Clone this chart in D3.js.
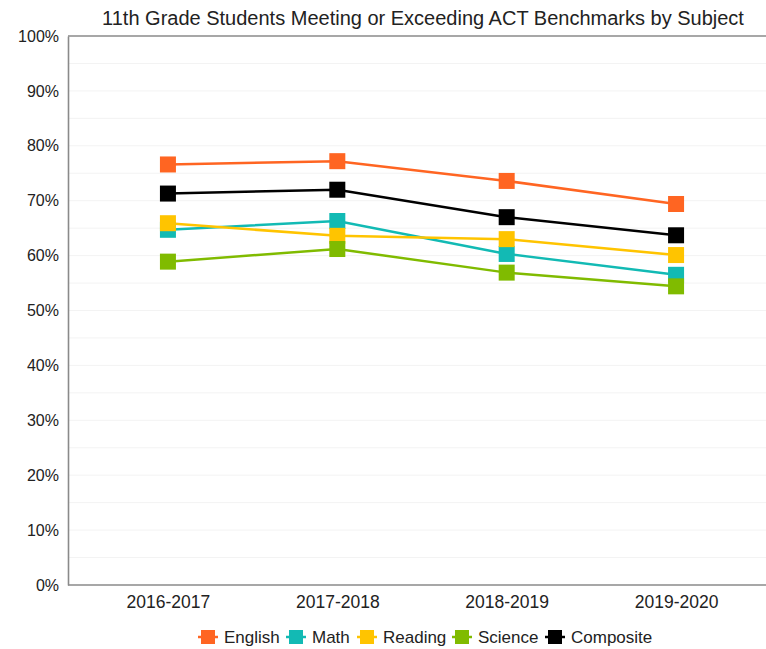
<!DOCTYPE html>
<html>
<head>
<meta charset="utf-8">
<script src="https://cdn.jsdelivr.net/npm/d3@7"></script>
<style>
  body { margin: 0; background: #fff; }
  svg text { font-family: "Liberation Sans", Arial, sans-serif; fill: #222; }
</style>
</head>
<body>
<svg id="chart" width="766" height="649"></svg>
<script>
// school years on the x axis
var years = ["2016-2017", "2017-2018", "2018-2019", "2019-2020"];

// percent meeting benchmark
var english   = [76.6, 77.2, 73.6, 69.4];
var math      = [64.7, 66.3, 60.3, 56.5];
var reading   = [65.9, 63.6, 63.0, 60.1];
var science   = [58.9, 61.2, 56.9, 54.4];
var composite = [71.3, 72.0, 67.0, 63.7];

var subjects = ["English", "Math", "Reading", "Science", "Composite"];
var colors   = ["#ff6522", "#12bab4", "#ffc400", "#80bb00", "#000000"];
var yTicks   = [0, 10, 20, 30, 40, 50, 60, 70, 80, 90, 100];

var seriesValues = [english, math, reading, science, composite];

var width = 766, height = 649;
var margin = {top: 36, right: 0, bottom: 64, left: 68};

var svg = d3.select("#chart");

var x = d3.scalePoint()
    .domain(years)
    .range([margin.left, width - margin.right + 10])
    .padding(0.59);

var y = d3.scaleLinear()
    .domain([0, 100])
    .range([height - margin.bottom, margin.top]);

// faint grid every 5%
svg.append("g")
  .selectAll("line")
  .data(d3.range(5, 100, 5))
  .enter().append("line")
    .attr("x1", margin.left)
    .attr("x2", width)
    .attr("y1", function(d) { return y(d); })
    .attr("y2", function(d) { return y(d); })
    .attr("stroke", "#f3f3f3")
    .attr("stroke-width", 1);

// y axis
var yAxis = svg.append("g")
    .attr("transform", "translate(" + margin.left + ",0)")
    .call(d3.axisLeft(y).tickValues(yTicks).tickSize(0).tickPadding(9)
      .tickFormat(function(d) { return d + "%"; }));
yAxis.select(".domain").attr("stroke", "#8a8a8a").attr("stroke-width", 1.6);
yAxis.selectAll("text").style("font-size", "16px").attr("fill", "#222");

// x axis
var xAxis = svg.append("g")
    .attr("transform", "translate(0," + y(0) + ")")
    .call(d3.axisBottom(x).tickSize(0).tickPadding(11));
xAxis.select(".domain").remove();
xAxis.selectAll("text").style("font-size", "17.5px").attr("fill", "#222");

svg.append("line")
    .attr("x1", margin.left).attr("x2", width)
    .attr("y1", y(0)).attr("y2", y(0))
    .attr("stroke", "#8a8a8a").attr("stroke-width", 1.6);
svg.append("line")
    .attr("x1", margin.left).attr("x2", width)
    .attr("y1", y(100)).attr("y2", y(100))
    .attr("stroke", "#8a8a8a").attr("stroke-width", 1.6);

// title
svg.append("text")
    .attr("x", 423)
    .attr("y", 25)
    .attr("text-anchor", "middle")
    .style("font-size", "20px")
    .attr("fill", "#111")
    .text("11th Grade Students Meeting or Exceeding ACT Benchmarks by Subject");

var line = d3.line()
    .x(function(d, i) { return x(years[i]); })
    .y(function(d) { return y(d); });

// lines first, then markers
svg.append("g")
  .selectAll("path")
  .data(seriesValues)
  .enter().append("path")
    .attr("d", line)
    .attr("fill", "none")
    .attr("stroke", function(d, i) { return colors[i]; })
    .attr("stroke-width", 2.5);

var sq = 16;
seriesValues.forEach(function(vals, s) {
  svg.append("g")
    .selectAll("rect")
    .data(vals)
    .enter().append("rect")
      .attr("x", function(d, i) { return x(years[i]) - sq / 2; })
      .attr("y", function(d) { return y(d) - sq / 2; })
      .attr("width", sq)
      .attr("height", sq)
      .attr("fill", colors[s]);
});

// legend
var legendX = [198, 286, 357, 452, 545];
var legend = svg.append("g")
  .selectAll("g")
  .data(subjects)
  .enter().append("g")
    .attr("transform", function(d, i) { return "translate(" + legendX[i] + ",637)"; });

legend.append("line")
    .attr("x1", 0).attr("x2", 20)
    .attr("stroke", function(d, i) { return colors[i]; })
    .attr("stroke-width", 2.5);
legend.append("rect")
    .attr("x", 3).attr("y", -7)
    .attr("width", 14).attr("height", 14)
    .attr("fill", function(d, i) { return colors[i]; });
legend.append("text")
    .attr("x", 26)
    .attr("y", 6)
    .style("font-size", "17px")
    .text(function(d) { return d; });
</script>
</body>
</html>
